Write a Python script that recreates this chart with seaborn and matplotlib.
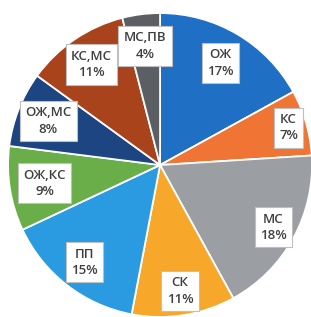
import numpy as np
import seaborn as sns
import matplotlib
matplotlib.use("Agg")
import matplotlib.pyplot as plt

categories = ["ОЖ", "КС", "МС", "СК", "ПП", "ОЖ,КС", "ОЖ,МС", "КС,МС", "МС,ПВ"]
shares = [17, 7, 18, 11, 15, 9, 8, 11, 4]
colors = ["#1f6fc4", "#f07434", "#9b9fa3", "#f7a72a", "#2a9be0",
          "#6aae4a", "#1d4581", "#a8431c", "#5b5f63"]
# label radius per slice (fraction of pie radius)
label_r = [0.78, 0.88, 0.85, 0.84, 0.81, 0.77, 0.79, 0.8, 0.79]

sns.set_style("white")
plt.rcParams["font.family"] = ["Open Sans", "DejaVu Sans"]

fig = plt.figure(figsize=(3.11, 3.17), dpi=100)
ax = fig.add_axes([0, 0, 1, 1])

wedges, texts = ax.pie(shares, colors=colors, startangle=90, counterclock=False,
                       labels=[f"{c}\n{s}%" for c, s in zip(categories, shares)],
                       labeldistance=0.8,
                       wedgeprops=dict(edgecolor="white", linewidth=1.3))

for w, t, r in zip(wedges, texts, label_r):
    ang = np.deg2rad((w.theta1 + w.theta2) / 2)
    t.set_position((r * np.cos(ang), r * np.sin(ang)))
    t.set_ha("center")
    t.set_va("center")
    t.set_fontsize(9.5)
    t.set_fontweight("semibold")
    t.set_color("#3f3f3f")
    t.set_linespacing(1.35)
    t.set_bbox(dict(boxstyle="square,pad=0.4", facecolor="white",
                    edgecolor="#bfbfbf", linewidth=0.8))

ax.set_xlim(-1.053, 0.993)
ax.set_ylim(-1.0, 1.086)
ax.set_aspect("auto")
ax.axis("off")

fig.savefig("out.png", dpi=100)
